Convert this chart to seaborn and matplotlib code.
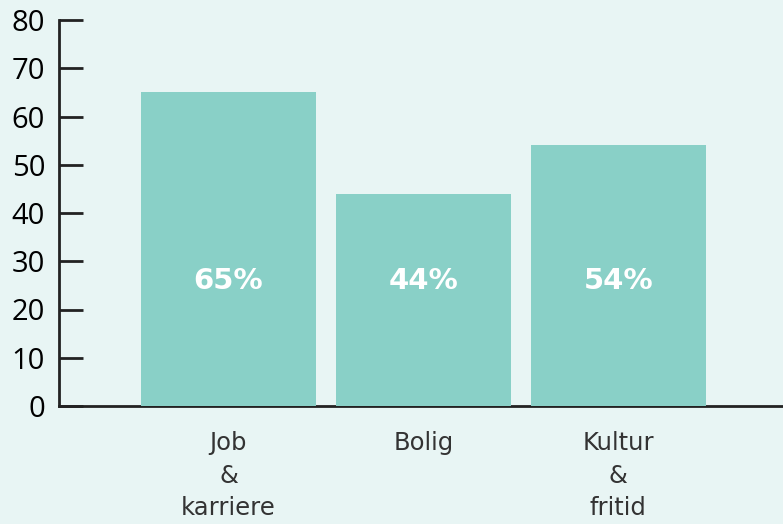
import matplotlib
matplotlib.use("Agg")
import matplotlib.pyplot as plt
import seaborn as sns
import pandas as pd

categories = ["Job\n&\nkarriere", "Bolig", "Kultur\n&\nfritid"]
values = [65, 44, 54]
value_labels = ["65%", "44%", "54%"]
yticks = [0, 10, 20, 30, 40, 50, 60, 70, 80]

BG = "#e8f5f4"
BAR = "#89d0c7"

sns.set_theme(style="white")
plt.rcParams["font.family"] = ["Open Sans", "DejaVu Sans"]

fig = plt.figure(figsize=(7.83, 5.24), dpi=100, facecolor=BG)
ax = fig.add_axes([59/783, 1-406/524, 1-59/783, (406-20)/524])
ax.set_facecolor(BG)

df = pd.DataFrame({"cat": categories, "val": values})
sns.barplot(data=df, x="cat", y="val", color=BAR, saturation=1, width=175/195,
            edgecolor="none", linewidth=0, ax=ax, zorder=1)

ax.set_xlim(-0.869, 2.844)
ax.set_ylim(0, 80)
ax.set_yticks(yticks)
ax.set_xlabel("")
ax.set_ylabel("")

for s in ["top", "right"]:
    ax.spines[s].set_visible(False)
for s in ["left", "bottom"]:
    ax.spines[s].set_color("#222222")
    ax.spines[s].set_linewidth(2)
    ax.spines[s].set_zorder(0)

ax.tick_params(axis="y", direction="in", length=17, width=2, color="#222222",
               labelsize=21, labelcolor="black", pad=10, left=True)
ax.tick_params(axis="x", length=0, pad=18, labelsize=17.5, labelcolor="#333333")
for lab in ax.get_xticklabels():
    lab.set_linespacing(1.45)
    lab.set_fontfamily(["DejaVu Sans"])

for i, (v, t) in enumerate(zip(values, value_labels)):
    ax.text(i, 26, t, ha="center", va="center", color="white",
            fontsize=21, fontweight="bold", family=["DejaVu Sans"])

fig.savefig("out.png", dpi=100, facecolor=BG)
